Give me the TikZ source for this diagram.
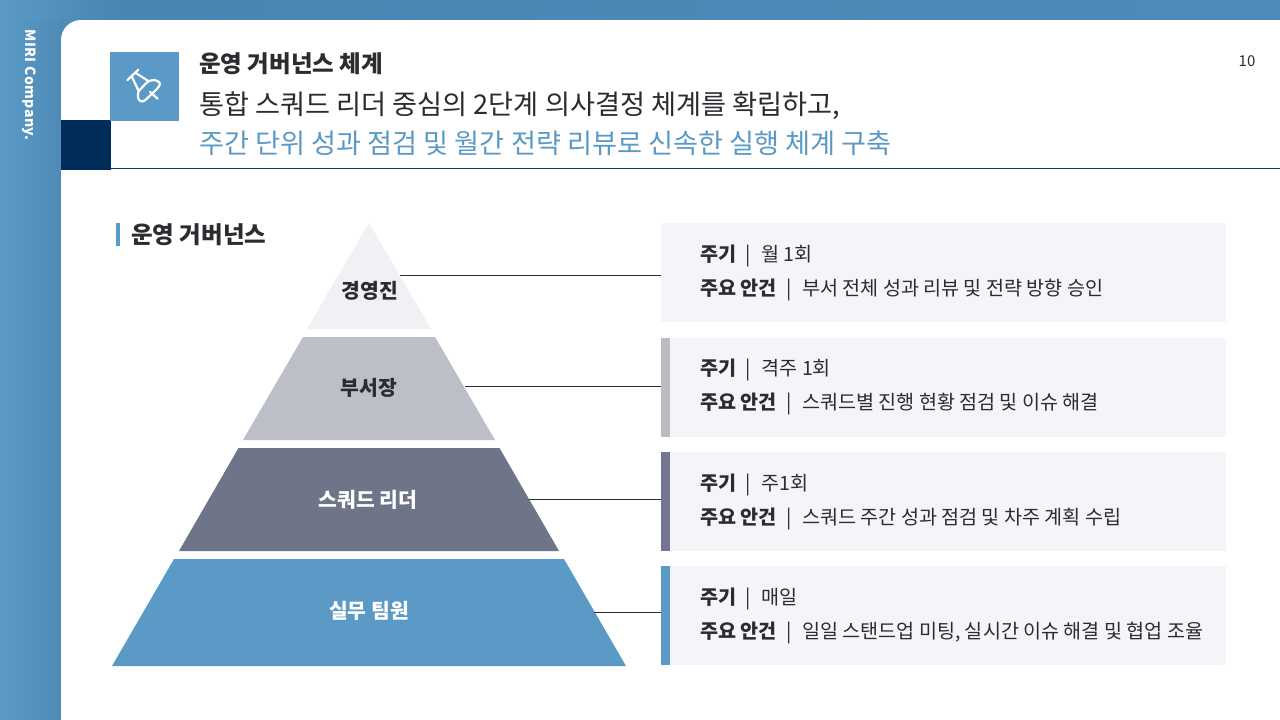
\documentclass[tikz,border=0pt]{standalone}
\usepackage{fontspec}
\setmainfont{Noto Sans CJK KR}
\usetikzlibrary{positioning,calc}
\definecolor{miriblue}{HTML}{5B9AC6}
\definecolor{miridark}{HTML}{4B85B2}
\definecolor{miriedge}{HTML}{4F8BB7}
\definecolor{miriright}{HTML}{4F8BB9}
\definecolor{mirinavy}{HTML}{002D5A}
\definecolor{cardgray}{HTML}{F5F4F8}
\definecolor{tierA}{HTML}{F1F0F4}
\definecolor{tierB}{HTML}{BCBEC8}
\definecolor{tierC}{HTML}{6E7589}
\definecolor{barB}{HTML}{BCBCC0}
\definecolor{barC}{HTML}{737690}
\definecolor{inktext}{HTML}{2B2B30}
\newcommand{\infosep}{\hspace{9.5pt}|\hspace{10.5pt}}
\tikzset{card/.style={fill=cardgray,minimum width=565pt,minimum height=99pt,inner sep=0pt,anchor=north west}}
\tikzset{tierlabel/.style={font=\fontsize{20.4}{24}\selectfont\bfseries,text=inktext}}
\tikzset{leader/.style={draw=inktext,line width=0.8pt}}
\tikzset{infotext/.style={anchor=west,inner sep=0pt,text=inktext,font=\fontsize{19.6}{23}\selectfont}}
\tikzset{pinline/.style={draw=white,line width=2.2pt,line cap=round,line join=round}}
\begin{document}
\begin{tikzpicture}[x=1pt,y=-1pt]
  \useasboundingbox (0,0) rectangle (1280,720);
  \shade[left color=miriblue,right color=miriedge] (0,0) rectangle (61,720);
  \shade[left color=miriblue,right color=miridark] (0,0) rectangle (120,20);
  \shade[left color=miridark,right color=miriright] (120,0) rectangle (1280,20);
  \fill[miriedge] (60,19) rectangle (82,41);
  \fill[white] (61,720) -- (61,40) arc[start angle=180,end angle=270,radius=20] -- (1280,20) -- (1280,720) -- cycle;
  \node[rotate=-90,text=white,font=\fontsize{14}{15}\selectfont\bfseries\addfontfeatures{LetterSpace=3},inner sep=0pt] (brand) at (29,85) {MIRI Company.};
  % header
  \fill[mirinavy] (61,120) rectangle (111,170);
  \fill[miriblue] (110,52) rectangle (179,121);
  \draw[pinline] (127.3,80.3) -- (138.3,69.7);
  \draw[pinline] (131.7,76.3) -- (138.3,90.3);
  \draw[pinline] (135.7,73) -- (148.3,81);
  \draw[pinline,rounded corners=2.5pt] (137.7,92) -- (148.3,81) -- (155,79.7) -- (160.7,83) -- (158.3,87.7) -- (143.3,102) -- (138.3,100.3) -- cycle;
  \draw[pinline] (150,92) -- (157.7,98.7);
  \draw[draw=mirinavy!90!miriblue,line width=1pt] (111,168.5) -- (1280,168.5);
  \node[anchor=west,inner sep=0pt,text=inktext,font=\fontsize{23.5}{26}\selectfont\bfseries] (kicker) at (199,64) {운영 거버넌스 체계};
  \node[anchor=west,inner sep=0pt,text=inktext,font=\fontsize{27.2}{32}\selectfont] (headA) at (199,106) {통합 스쿼드 리더 중심의 2단계 의사결정 체계를 확립하고,};
  \node[anchor=west,inner sep=0pt,text=miriblue,font=\fontsize{27.2}{32}\selectfont] (headB) at (199,143) {주간 단위 성과 점검 및 월간 전략 리뷰로 신속한 실행 체계 구축};
  \node[text=inktext,font=\fontsize{15}{16}\selectfont,inner sep=0pt] (pageno) at (1247,61) {10};
  % section title
  \fill[miriblue] (116,223) rectangle (120,246);
  \node[anchor=west,inner sep=0pt,text=inktext,font=\fontsize{23.5}{27}\selectfont\bfseries] (section) at (131,235) {운영 거버넌스};
  % pyramid
  \fill[tierA] (369,223) -- (431,329) -- (307,329) -- cycle;
  \fill[tierB] (303,337) -- (435,337) -- (495,440) -- (243,440) -- cycle;
  \fill[tierC] (238.5,448) -- (499.5,448) -- (559,551) -- (179,551) -- cycle;
  \fill[miriblue] (174,559) -- (564,559) -- (626,666) -- (112,666) -- cycle;
  \node[tierlabel] (tierone) at (370,291) {경영진};
  \node[tierlabel] (tiertwo) at (369,388) {부서장};
  \node[tierlabel,text=white] (tierthree) at (368,500) {스쿼드 리더};
  \node[tierlabel,text=white] (tierfour) at (369,611) {실무 팀원};
  % cards
  \node[card] (cardone) at (661,223) {};
  \node[card] (cardtwo) at (661,338) {};
  \node[card] (cardthree) at (661,452) {};
  \node[card] (cardfour) at (661,566) {};
  \fill[barB] (cardtwo.north west) rectangle ($(cardtwo.south west)+(9,0)$);
  \fill[barC] (cardthree.north west) rectangle ($(cardthree.south west)+(9,0)$);
  \fill[miriblue] (cardfour.north west) rectangle ($(cardfour.south west)+(9,0)$);
  % leaders
  \coordinate (startone) at (400,275);
  \coordinate (starttwo) at (465,386);
  \coordinate (startthree) at (529,499);
  \coordinate (startfour) at (594,612);
  \draw[leader] (startone) -- (startone -| cardone.west);
  \draw[leader] (starttwo) -- (starttwo -| cardtwo.west);
  \draw[leader] (startthree) -- (startthree -| cardthree.west);
  \draw[leader] (startfour) -- (startfour -| cardfour.west);
  % card texts
  \node[infotext] (cycleone) at (700,256) {\textbf{주기}\infosep 월 1회};
  \node[infotext] (itemone) at (700,290) {\textbf{주요 안건}\infosep 부서 전체 성과 리뷰 및 전략 방향 승인};
  \node[infotext] (cycletwo) at (700,370) {\textbf{주기}\infosep 격주 1회};
  \node[infotext] (itemtwo) at (700,404) {\textbf{주요 안건}\infosep 스쿼드별 진행 현황 점검 및 이슈 해결};
  \node[infotext] (cyclethree) at (700,485) {\textbf{주기}\infosep 주1회};
  \node[infotext] (itemthree) at (700,519) {\textbf{주요 안건}\infosep 스쿼드 주간 성과 점검 및 차주 계획 수립};
  \node[infotext] (cyclefour) at (700,599) {\textbf{주기}\infosep 매일};
  \node[infotext] (itemfour) at (700,633) {\textbf{주요 안건}\infosep 일일 스탠드업 미팅, 실시간 이슈 해결 및 협업 조율};
\end{tikzpicture}
\end{document}
